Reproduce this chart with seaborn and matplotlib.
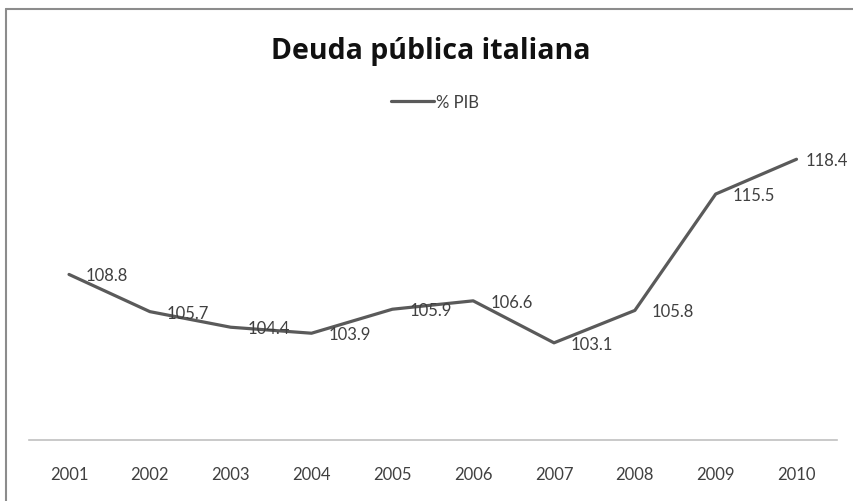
import matplotlib
matplotlib.use("Agg")
import matplotlib.pyplot as plt
import seaborn as sns
import pandas as pd
from matplotlib.lines import Line2D

years = ["2001", "2002", "2003", "2004", "2005", "2006", "2007", "2008", "2009", "2010"]
deuda_pib = [108.8, 105.7, 104.4, 103.9, 105.9, 106.6, 103.1, 105.8, 115.5, 118.4]
series_name = "% PIB"
title = "Deuda pública italiana"


def main():
    sns.set_style("white")
    plt.rcParams["font.family"] = ["Lato", "DejaVu Sans"]

    df = pd.DataFrame({"year": years, "value": deuda_pib})

    fig = plt.figure(figsize=(8.54, 5.02), dpi=100)
    ax = fig.add_axes([0.0335, 0.1215, 0.9465, 0.5975])

    sns.lineplot(data=df, x="year", y="value", ax=ax, color="#5a5a5a",
                 linewidth=2.3, label=series_name, sort=False)

    # data labels to the right of each point, like excel
    # (the last one sits closer so it stays inside the chart)
    for i, v in enumerate(deuda_pib):
        dx = 17 if i < len(deuda_pib) - 1 else 9
        ax.annotate("{0}".format(v), xy=(i, v), xytext=(dx, -1), textcoords="offset pixels",
                    ha="left", va="center", fontsize=12, color="#404040")

    ax.set_xlim(-0.5, len(years) - 0.5)
    ax.set_ylim(95, 120)
    ax.set_yticks([])
    ax.set_xlabel("")
    ax.set_ylabel("")
    ax.tick_params(axis="x", length=0, pad=19, labelsize=12, labelcolor="#404040")

    for s in ["top", "left", "right"]:
        ax.spines[s].set_visible(False)
    ax.spines["bottom"].set_color("#c0c0c0")
    ax.spines["bottom"].set_linewidth(1.2)

    ax.legend(loc="center", bbox_to_anchor=(0.509, 0.795), bbox_transform=fig.transFigure,
              frameon=False, fontsize=12, handlelength=2.6, handletextpad=0.1,
              labelcolor="#404040")

    fig.text(0.504, 0.898, title, ha="center", va="center", fontsize=20.5,
             fontweight="bold", color="#111111", family=["Open Sans", "DejaVu Sans"])

    # outer chart frame (cut off on the right and bottom)
    fig.add_artist(Line2D([0.0076, 0.0076], [0.0, 0.980], transform=fig.transFigure,
                          color="#8c8c8c", linewidth=1.5))
    fig.add_artist(Line2D([0.0076, 1.0], [0.980, 0.980], transform=fig.transFigure,
                          color="#8c8c8c", linewidth=1.5))

    fig.savefig("out.png", dpi=100)


if __name__ == "__main__":
    main()
